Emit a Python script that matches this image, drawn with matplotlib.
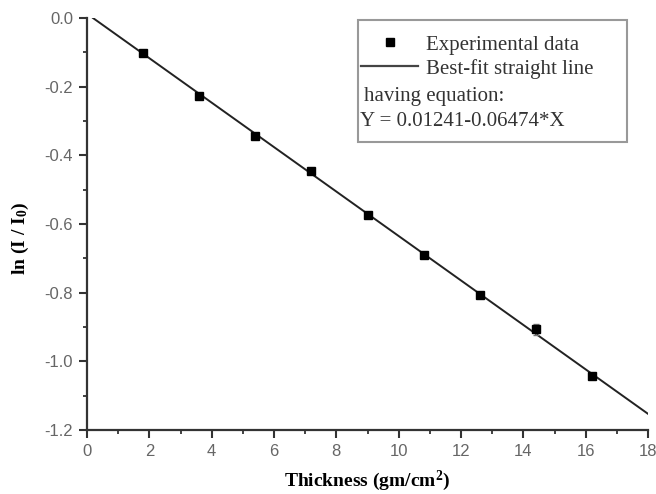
import numpy as np
import matplotlib.pyplot as plt
from matplotlib.patches import Rectangle
from matplotlib.lines import Line2D
from matplotlib.ticker import MultipleLocator

plt.rcParams['mathtext.fontset'] = 'custom'
plt.rcParams['mathtext.rm'] = 'Liberation Serif'
plt.rcParams['mathtext.it'] = 'Liberation Serif:italic'
plt.rcParams['mathtext.bf'] = 'Liberation Serif:bold'

# data
thickness = [1.8, 3.6, 5.4, 7.2, 9.0, 10.8, 12.6, 14.4, 16.2]
ln_ratio = [-0.102, -0.226, -0.344, -0.446, -0.575, -0.690, -0.807, -0.907, -1.043]
ln_err = [0.006, 0.004, 0.005, 0.004, 0.004, 0.004, 0.004, 0.016, 0.005]

intercept = 0.01241
slope = -0.06474
fit_x = [-intercept / slope, 18.0]
fit_y = [intercept + slope * v for v in fit_x]

fig = plt.figure(figsize=(6.56, 4.94), dpi=100)
W, H = 656, 494
ax = fig.add_axes([87 / W, 1 - 430 / H, (648 - 87) / W, (430 - 18) / H])

ax.plot(fit_x, fit_y, color='#222222', lw=1.4, label='Best-fit straight line', zorder=2)
ax.errorbar(thickness, ln_ratio, yerr=ln_err, fmt='s', ms=6, color='black',
            ecolor='#777777', elinewidth=1, capsize=2, lw=0, zorder=3)

ax.set_xlim(0, 18)
ax.set_ylim(-1.2, 0.0)
ax.xaxis.set_major_locator(MultipleLocator(2))
ax.xaxis.set_minor_locator(MultipleLocator(1))
ax.yaxis.set_major_locator(MultipleLocator(0.2))
ax.yaxis.set_minor_locator(MultipleLocator(0.1))
ax.yaxis.set_major_formatter(plt.FuncFormatter(lambda v, p: f'{v:.1f}'))

for s in ['top', 'right']:
    ax.spines[s].set_visible(False)
for s in ['left', 'bottom']:
    ax.spines[s].set_linewidth(1.6)
    ax.spines[s].set_color('#333333')
ax.tick_params(which='major', direction='out', length=6, width=1.5, color='#333333',
               labelsize=12, labelcolor='#666666', pad=4)
ax.tick_params(which='minor', direction='out', length=3, width=1.3, color='#333333')
for lab in ax.get_xticklabels() + ax.get_yticklabels():
    lab.set_family('Liberation Sans')

ax.set_xlabel('Thickness (gm/cm$^\\mathbf{2}$)', family='Liberation Serif', fontweight='bold',
              fontsize=14, labelpad=7)
ax.set_ylabel('ln (I / I$_\\mathbf{0}$)', family='Liberation Serif', fontweight='bold',
              fontsize=14)
ax.yaxis.set_label_coords(-0.10, 0.466)

# legend box
handles = [Line2D([], [], marker='s', ls='none', color='black', ms=6),
           Line2D([], [], color='#444444', lw=1.6)]
leg = fig.legend(handles, ['Experimental data', 'Best-fit straight line'],
                 loc='upper left', bbox_to_anchor=(361 / W, 1 - 35 / H),
                 frameon=False, borderpad=0, borderaxespad=0, handlelength=2.75,
                 handletextpad=0.35, labelspacing=0.2,
                 prop={'family': 'Liberation Serif', 'size': 15})
for t in leg.get_texts():
    t.set_color('#333333')
fig.text(364 / W, 1 - 96 / H, 'having equation:', family='Liberation Serif',
         fontsize=15, color='#333333', va='center')
fig.text(360 / W, 1 - 122 / H, 'Y = 0.01241-0.06474*X', family='Liberation Serif',
         fontsize=15, color='#333333', va='center')
fig.patches.append(Rectangle((358 / W, 1 - 142 / H), (627 - 358) / W, (142 - 20) / H,
                             transform=fig.transFigure, fill=False,
                             edgecolor='#999999', lw=1.5))

fig.savefig('out.png', dpi=100)
